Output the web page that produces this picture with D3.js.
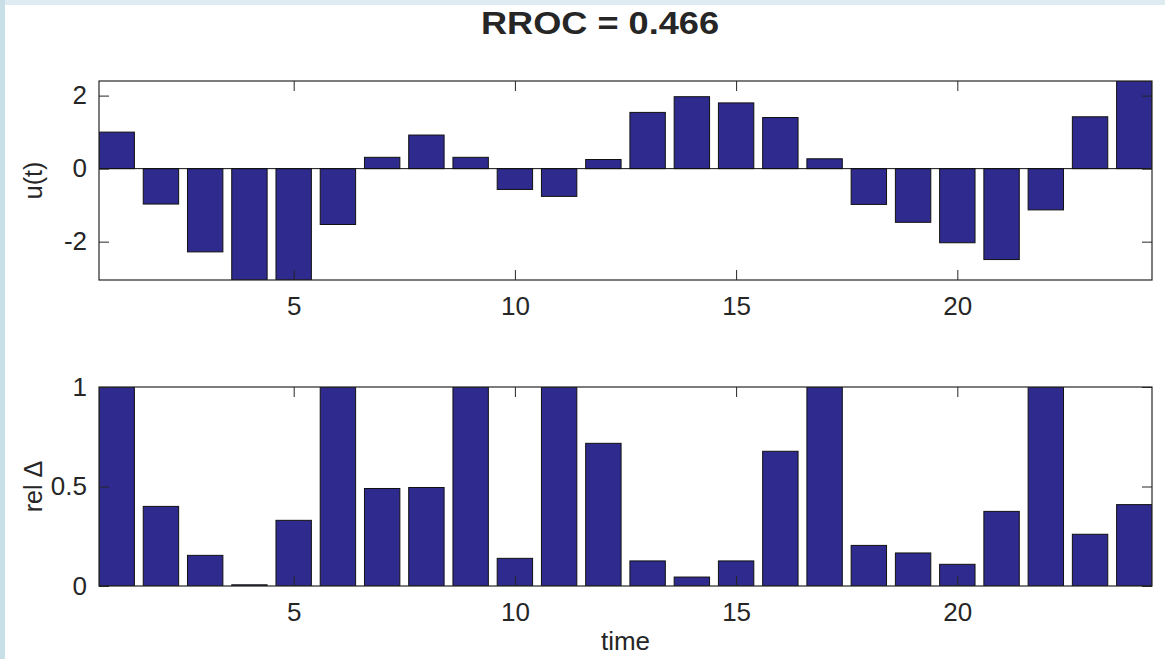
<!DOCTYPE html>
<html>
<head>
<meta charset="utf-8">
<script src="https://cdn.jsdelivr.net/npm/d3@7/dist/d3.min.js"></script>
<style>
  html, body { margin: 0; padding: 0; background: #ffffff; }
  svg { display: block; }
  text { font-family: "Liberation Sans", Arial, Helvetica, sans-serif; fill: #262626; }
</style>
</head>
<body>
<svg id="chart" width="1165" height="659"></svg>
<script>
// ---- data ----
const time = d3.range(1, 25);
const u = [1.0, -0.97, -2.28, -3.05, -3.05, -1.53, 0.31, 0.92, 0.31, -0.57, -0.76, 0.25,
           1.54, 1.97, 1.80, 1.40, 0.27, -0.98, -1.47, -2.03, -2.49, -1.13, 1.42, 2.4];
const relDelta = [1.0, 0.40, 0.154, 0.006, 0.33, 1.0, 0.49, 0.495, 1.0, 0.139, 1.0, 0.717,
                  0.126, 0.045, 0.126, 0.677, 1.0, 0.204, 0.166, 0.109, 0.375, 1.0, 0.26, 0.409];
const xTicks = [5, 10, 15, 20];
const uTicks = [-2, 0, 2];
const relTicks = [0, 0.5, 1];
const relTickLabels = ["0", "0.5", "1"];
const titleText = "RROC = 0.466";

// ---- layout ----
const svg = d3.select("#chart");
const W = 1165, H = 659;
const L = 99, R = 1152;
const barColor = "#2e2a8e";

// background frame strips
svg.append("rect").attr("x", 0).attr("y", 0).attr("width", W).attr("height", 5).attr("fill", "#deebf1");
svg.append("rect").attr("x", 0).attr("y", 0).attr("width", 5).attr("height", H).attr("fill", "#c9dfe8");

const x = d3.scaleLinear().domain([0.6, 24.4]).range([L, R]);
const bw = x(1.4) - x(0.6);

function panel(opts) {
  const { top, bottom, ydom, data, ticks, tickFmt, ylabel, baseline } = opts;
  const y = d3.scaleLinear().domain(ydom).range([bottom, top]);
  const g = svg.append("g");
  const clipId = "clip" + Math.round(top);
  g.append("clipPath").attr("id", clipId).append("rect")
    .attr("x", L).attr("y", top).attr("width", R - L).attr("height", bottom - top);

  const bars = g.append("g").attr("clip-path", `url(#${clipId})`);
  bars.selectAll("rect").data(data).enter().append("rect")
    .attr("x", (d, i) => x(time[i]) - bw / 2)
    .attr("width", bw)
    .attr("y", d => Math.min(y(d), y(0)))
    .attr("height", d => Math.abs(y(d) - y(0)))
    .attr("fill", barColor)
    .attr("stroke", "#111")
    .attr("stroke-width", 1);

  if (baseline) {
    g.append("line").attr("x1", L).attr("x2", R).attr("y1", y(0)).attr("y2", y(0))
      .attr("stroke", "#111").attr("stroke-width", 1);
  }

  const fs = "26px";
  const ax1 = g.append("g").attr("transform", `translate(0,${bottom})`)
    .call(d3.axisBottom(x).tickValues(xTicks).tickSize(-10).tickPadding(17).tickSizeOuter(0));
  const ax2 = g.append("g").attr("transform", `translate(0,${top})`)
    .call(d3.axisTop(x).tickValues(xTicks).tickSize(-10).tickFormat("").tickSizeOuter(0));
  const ay1 = g.append("g").attr("transform", `translate(${L},0)`)
    .call(d3.axisLeft(y).tickValues(ticks).tickSize(-10).tickPadding(12).tickFormat(tickFmt).tickSizeOuter(0));
  const ay2 = g.append("g").attr("transform", `translate(${R},0)`)
    .call(d3.axisRight(y).tickValues(ticks).tickSize(-10).tickFormat("").tickSizeOuter(0));
  [ax1, ax2, ay1, ay2].forEach(a => {
    a.select(".domain").remove();
    a.selectAll(".tick line").attr("stroke", "#262626");
    a.selectAll("text").style("font-size", fs).attr("fill", "#262626")
      .style("font-family", '"Liberation Sans", Arial, sans-serif');
  });

  g.append("rect").attr("x", L).attr("y", top).attr("width", R - L).attr("height", bottom - top)
    .attr("fill", "none").attr("stroke", "#262626").attr("stroke-width", 1.2);

  g.append("text")
    .attr("transform", `translate(42,${(top + bottom) / 2}) rotate(-90)`)
    .attr("text-anchor", "middle")
    .style("font-size", "25px")
    .text(ylabel);
  return y;
}

panel({ top: 81, bottom: 280, ydom: [-3.05, 2.4], data: u, ticks: uTicks,
        tickFmt: d => d < 0 ? "-" + Math.abs(d) : String(d), ylabel: "u(t)", baseline: true });
panel({ top: 387, bottom: 586, ydom: [0, 1], data: relDelta, ticks: relTicks,
        tickFmt: (d, i) => relTickLabels[i], ylabel: "rel \u0394", baseline: false });

svg.append("text").attr("x", (L + R) / 2).attr("y", 650).attr("text-anchor", "middle")
  .style("font-size", "26px").text("time");

svg.append("text").attr("x", 600).attr("y", 34).attr("text-anchor", "middle")
  .style("font-size", "31px").style("font-weight", "bold").attr("fill", "#000")
  .attr("textLength", 238).attr("lengthAdjust", "spacingAndGlyphs")
  .text(titleText);
</script>
</body>
</html>
